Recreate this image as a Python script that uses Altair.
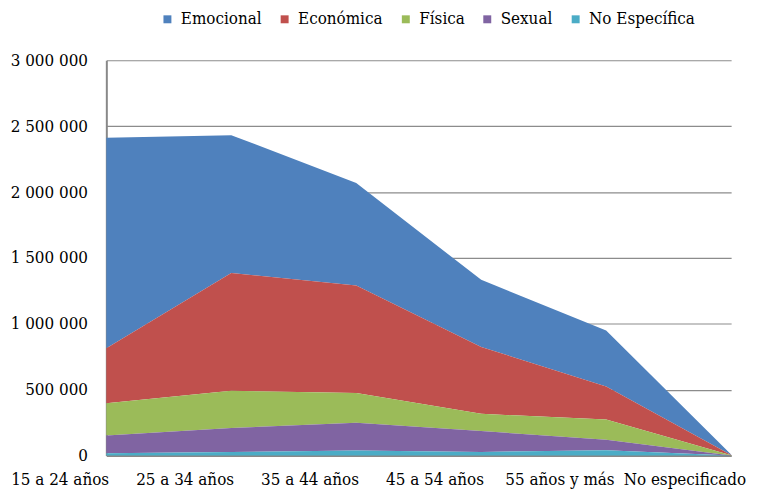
import altair as alt
import pandas as pd

categories = ["15 a 24 años", "25 a 34 años", "35 a 44 años",
              "45 a 54 años", "55 años y más", "No especificado"]
series = ["Emocional", "Económica", "Física", "Sexual", "No Específica"]
colors = ["#4F81BD", "#C0504D", "#9BBB59", "#8064A2", "#4BACC6"]

emocional = [1598000, 1047000, 777000, 510000, 425000, 3000]
economica = [417000, 893000, 816000, 507000, 251000, 2000]
fisica = [244000, 283000, 226000, 131000, 153000, 1000]
sexual = [135000, 181000, 211000, 158000, 81000, 1000]
no_especifica = [18000, 28000, 38000, 28000, 40000, 500]

values = [emocional, economica, fisica, sexual, no_especifica]
# stacking order: bottom first
stack_order = {"No Específica": 0, "Sexual": 1, "Física": 2, "Económica": 3, "Emocional": 4}

rows = []
for s, vals in zip(series, values):
    for c, v in zip(categories, vals):
        rows.append({"cat": c, "serie": s, "valor": v, "ord": stack_order[s]})
df = pd.DataFrame(rows)

font = "DejaVu Serif Condensed, Liberation Serif, serif"
fs = 17

chart = alt.Chart(df).mark_area(opacity=1).encode(
    x=alt.X("cat:N", sort=categories, title=None,
            scale=alt.Scale(type="point", padding=0),
            axis=alt.Axis(labelAngle=0, ticks=False, domain=True, domainColor="#888888",
                          domainWidth=2, grid=False, labelFontSize=fs, labelFont=font,
                          labelColor="#000000", labelPadding=16, labelOffset=-47,
                          labelOverlap=False, labelBound=False, labelFlush=False)),
    y=alt.Y("valor:Q", stack="zero", title=None,
            scale=alt.Scale(domain=[0, 3000000], nice=False),
            axis=alt.Axis(values=[0, 500000, 1000000, 1500000, 2000000, 2500000, 3000000],
                          labelExpr="replace(format(datum.value, ','), regexp(',', 'g'), ' ')",
                          ticks=False, domain=True, domainColor="#888888", domainWidth=2,
                          grid=True, gridColor="#8c8c8c", gridWidth=1.2,
                          labelFontSize=fs, labelFont=font, labelColor="#000000",
                          labelPadding=19)),
    color=alt.Color("serie:N", sort=series,
                    scale=alt.Scale(domain=series, range=colors),
                    legend=alt.Legend(title=None, orient="none", direction="horizontal",
                                      legendX=53, legendY=-50, symbolType="square",
                                      symbolSize=64, symbolStrokeWidth=0,
                                      labelFontSize=fs, labelFont=font, labelColor="#000000",
                                      labelOffset=5, columnPadding=14)),
    order=alt.Order("ord:Q"),
).properties(
    width=629, height=398,
    autosize=alt.AutoSizeParams(type="none"),
    padding={"left": 99, "top": 51, "right": 18, "bottom": 34},
).configure_view(stroke=None)

chart.save("out.html", embed_options={"renderer": "svg", "actions": False})
